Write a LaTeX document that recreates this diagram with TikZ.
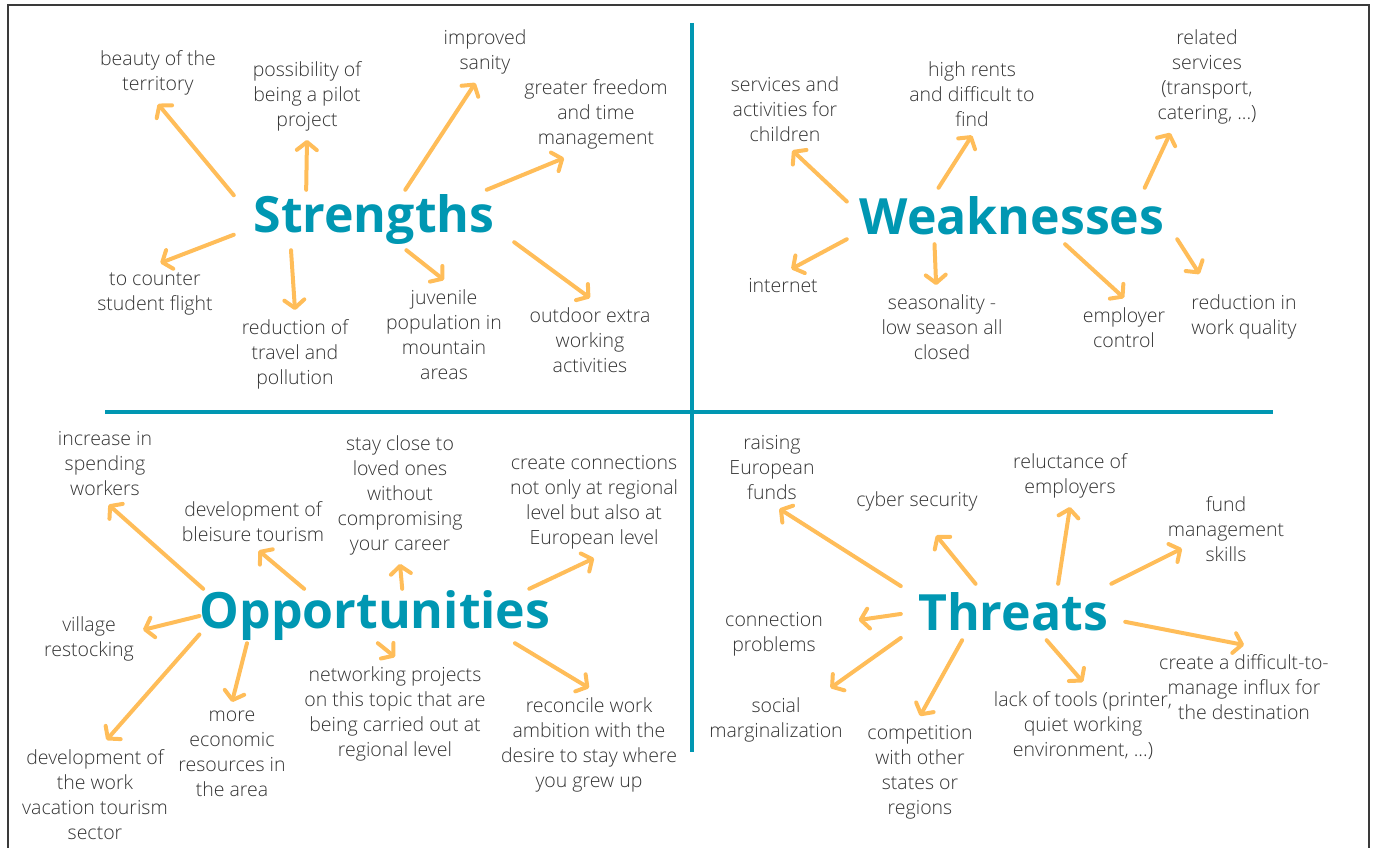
\documentclass[tikz,border=0pt]{standalone}
\usepackage{fontspec}
\setmainfont{Open Sans}
\IfFontExistsTF{Open Sans Light}{\newfontfamily\leaffamily{Open Sans Light}}{\newfontfamily\leaffamily{Open Sans}}
\usepackage{xcolor}
\definecolor{SwotTeal}{HTML}{0097B2}
\definecolor{ArrowOrange}{HTML}{FFBD59}
\definecolor{TextGray}{HTML}{333333}
\definecolor{FrameGray}{HTML}{3A3A3A}
\usepackage{tikz}
\usetikzlibrary{arrows.meta}

\begin{document}
\begin{tikzpicture}[x=1pt,y=-1pt,
  title/.style={text=SwotTeal,font=\fontsize{50}{60}\selectfont\bfseries,inner sep=0pt},
  leaf/.style={align=center,anchor=north,inner sep=9pt,text=TextGray,font=\leaffamily\fontsize{19.5}{25}\selectfont},
  arr/.style={draw=ArrowOrange,line width=4pt,line cap=round,-{Straight Barb[length=8pt,width=20pt,round]}}]
\useasboundingbox (0,0) rectangle (1377,848);
\draw[line width=1.6pt,FrameGray] (8,848) -- (8,5) -- (1369,5) -- (1369,848);
\draw[line width=4pt,SwotTeal] (105,412) -- (1273,412);
\draw[line width=4pt,SwotTeal] (692,23) -- (692,752);

\node[title,minimum width=280,minimum height=60] (s) at (374,220) {Strengths};
\node[leaf] (s1) at (158,41) {beauty of the\\territory};
\node[leaf] (s2) at (307,52) {possibility of\\being a pilot\\project};
\node[leaf] (s3) at (485,20) {improved\\sanity};
\node[leaf] (s4) at (596,70) {greater freedom\\and time\\management};
\node[leaf] (s5) at (155,263) {to counter\\student flight};
\node[leaf] (s6) at (295,310) {reduction of\\travel and\\pollution};
\node[leaf] (s7) at (444,280) {juvenile\\population in\\mountain\\areas};
\node[leaf] (s8) at (590,298) {outdoor extra\\working\\activities};
\draw[arr] (s.170) -- (s1.south);\draw[arr] (s.156) -- (s2.south);\draw[arr] (s.44) -- (s3.253);\draw[arr] (s.15) -- (s4.234);
\draw[arr] (s.186) -- (s5.80);\draw[arr] (s.200) -- (s6.north);\draw[arr] (s.317) -- (s7.north);\draw[arr] (s.351) -- (s8.north);

\node[title,minimum width=330,minimum height=56] (w) at (1012,216) {Weaknesses};
\node[leaf] (w1) at (785,67) {services and\\activities for\\children};
\node[leaf] (w2) at (972,52) {high rents\\and difficult to\\find};
\node[leaf] (w3) at (1207,20) {related\\services\\(transport,\\catering, ...)};
\node[leaf] (w4) at (783,269) {internet};
\node[leaf] (w5) at (942,285) {seasonality -\\low season all\\closed};
\node[leaf] (w6) at (1124,298) {employer\\control};
\node[leaf] (w7) at (1244,285) {reduction in\\work quality};
\draw[arr] (w.175) -- (w1.280);\draw[arr] (w.159) -- (w2.south);\draw[arr] (w.12) -- (w3.237);\draw[arr] (w.188) -- (w4.63);
\draw[arr] (w.200) -- (w5.98);\draw[arr] (w.332) -- (w6.north);\draw[arr,shorten >=13pt] (w.352) -- (w7.140);

\node[title,minimum width=350,minimum height=54] (o) at (375,616) {Opportunities};
\node[leaf] (o1) at (105,422) {increase in\\spending\\workers};
\node[leaf] (o2) at (253,492) {development of\\bleisure tourism};
\node[leaf] (o3) at (400,426) {stay close to\\loved ones\\without\\compromising\\your career};
\node[leaf] (o4) at (594,446) {create connections\\not only at regional\\level but also at\\European level};
\node[leaf] (o5) at (89,607) {village\\restocking};
\node[leaf] (o6) at (95,740) {development of\\the work\\vacation tourism\\sector};
\node[leaf] (o7) at (232,702) {more\\economic\\resources in\\the area};
\node[leaf] (o8) at (395,657) {networking projects\\on this topic that are\\being carried out at\\regional level};
\node[leaf] (o9) at (589,688) {reconcile work\\ambition with the\\desire to stay where\\you grew up};
\draw[arr] (o.171) -- (o1.275);\draw[arr] (o.159) -- (o2.281);\draw[arr] (o.45) -- (o3.south);\draw[arr] (o.10) -- (o4.south);
\draw[arr] (o.180) -- (o5.9);\draw[arr] (o.186) -- (o6.78);\draw[arr] (o.192) -- (o7.north);\draw[arr] (o.276) -- (o8.north);\draw[arr] (o.349) -- (o9.north);

\node[title,minimum width=224,minimum height=56] (t) at (1013,612) {Threats};
\node[leaf] (t1) at (772,426) {raising\\European\\funds};
\node[leaf] (t2) at (917,482) {cyber security};
\node[leaf] (t3) at (1070,444) {reluctance of\\employers};
\node[leaf] (t4) at (1226,487) {fund\\management\\skills};
\node[leaf] (t5) at (774,603) {connection\\problems};
\node[leaf] (t6) at (776,688) {social\\marginalization};
\node[leaf] (t7) at (920,716) {competition\\with other\\states or\\regions};
\node[leaf] (t8) at (1083,682) {lack of tools (printer,\\quiet working\\environment, ...)};
\node[leaf] (t9) at (1244,645) {create a difficult-to-\\manage influx for\\the destination};
\draw[arr] (t.167) -- (t1.280);\draw[arr,shorten >=20pt] (t.143) -- (t2.289);\draw[arr] (t.32) -- (t3.south);\draw[arr,shorten >=-26pt] (t.16) -- (t4.205);
\draw[arr,shorten >=27pt] (t.181) -- (t5.10);\draw[arr] (t.193) -- (t6.30);\draw[arr] (t.209) -- (t7.north);\draw[arr] (t.320) -- (t8.north);\draw[arr] (t.355) -- (t9.north);
\end{tikzpicture}
\end{document}
